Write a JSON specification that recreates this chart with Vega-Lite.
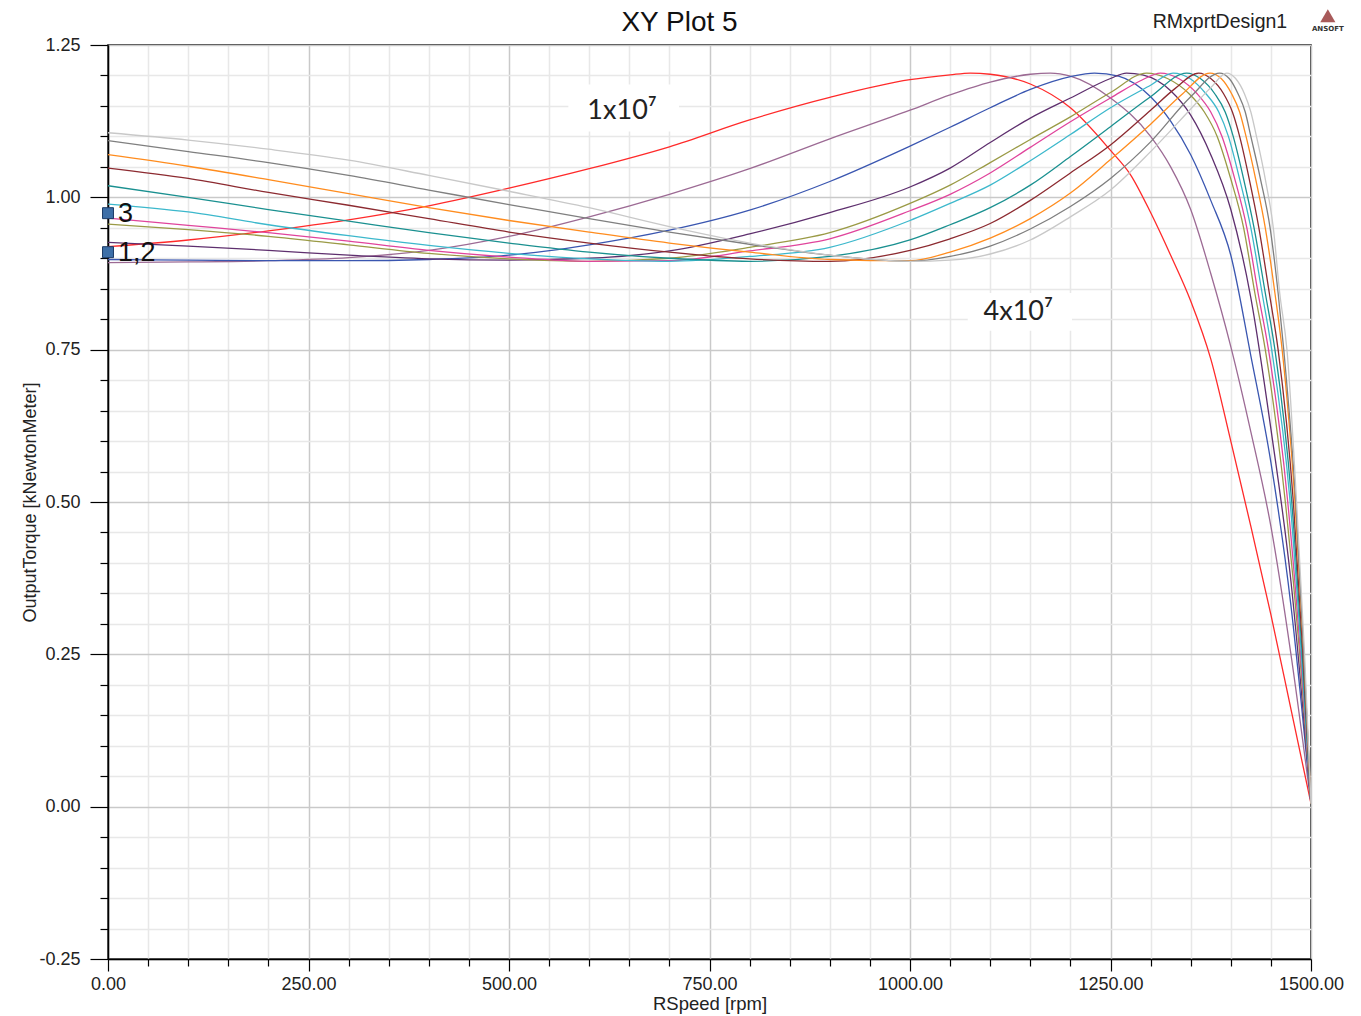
{
"$schema":"https://vega.github.io/schema/vega-lite/v6.json",
"width":1203,"height":914,
"autosize":{"type":"none"},
"padding":{"left":108,"top":45,"right":50,"bottom":57},
"background":"white",
"config":{"view":{"stroke":"#000","strokeWidth":1.5}},
"title":{"text":"XY Plot 5","font":"Liberation Sans","fontSize":28,"fontWeight":"normal","color":"#111","frame":"group","anchor":"middle","dx":-30,"offset":-28},
"datasets":{
"curves":[
{"s":"c01","x":0,"y":0.919},{"s":"c01","x":100,"y":0.930},{"s":"c01","x":200,"y":0.945},{"s":"c01","x":300,"y":0.963},{"s":"c01","x":400,"y":0.986},{"s":"c01","x":500,"y":1.015},{"s":"c01","x":600,"y":1.047},{"s":"c01","x":700,"y":1.083},{"s":"c01","x":800,"y":1.127},{"s":"c01","x":900,"y":1.164},{"s":"c01","x":1000,"y":1.193},{"s":"c01","x":1050,"y":1.201},{"s":"c01","x":1075,"y":1.204},{"s":"c01","x":1100,"y":1.202},{"s":"c01","x":1150,"y":1.186},{"s":"c01","x":1200,"y":1.147},{"s":"c01","x":1250,"y":1.077},{"s":"c01","x":1275,"y":1.037},{"s":"c01","x":1300,"y":0.975},{"s":"c01","x":1325,"y":0.905},{"s":"c01","x":1350,"y":0.83},{"s":"c01","x":1375,"y":0.735},{"s":"c01","x":1400,"y":0.60},{"s":"c01","x":1425,"y":0.46},{"s":"c01","x":1450,"y":0.315},{"s":"c01","x":1475,"y":0.16},{"s":"c01","x":1500,"y":0.005},
{"s":"c02","x":0,"y":0.893},{"s":"c02","x":100,"y":0.894},{"s":"c02","x":200,"y":0.896},{"s":"c02","x":300,"y":0.901},{"s":"c02","x":400,"y":0.913},{"s":"c02","x":500,"y":0.936},{"s":"c02","x":600,"y":0.968},{"s":"c02","x":700,"y":1.005},{"s":"c02","x":800,"y":1.047},{"s":"c02","x":900,"y":1.096},{"s":"c02","x":1000,"y":1.143},{"s":"c02","x":1050,"y":1.168},{"s":"c02","x":1100,"y":1.189},{"s":"c02","x":1150,"y":1.202},{"s":"c02","x":1175,"y":1.204},{"s":"c02","x":1200,"y":1.199},{"s":"c02","x":1250,"y":1.163},{"s":"c02","x":1300,"y":1.10},{"s":"c02","x":1325,"y":1.05},{"s":"c02","x":1350,"y":0.98},{"s":"c02","x":1375,"y":0.875},{"s":"c02","x":1400,"y":0.755},{"s":"c02","x":1425,"y":0.615},{"s":"c02","x":1450,"y":0.46},{"s":"c02","x":1475,"y":0.25},{"s":"c02","x":1500,"y":0.005},
{"s":"c03","x":0,"y":0.898},{"s":"c03","x":100,"y":0.897},{"s":"c03","x":200,"y":0.896},{"s":"c03","x":300,"y":0.896},{"s":"c03","x":400,"y":0.898},{"s":"c03","x":500,"y":0.905},{"s":"c03","x":600,"y":0.922},{"s":"c03","x":700,"y":0.946},{"s":"c03","x":800,"y":0.979},{"s":"c03","x":900,"y":1.026},{"s":"c03","x":1000,"y":1.084},{"s":"c03","x":1050,"y":1.115},{"s":"c03","x":1100,"y":1.147},{"s":"c03","x":1150,"y":1.177},{"s":"c03","x":1200,"y":1.198},{"s":"c03","x":1230,"y":1.204},{"s":"c03","x":1260,"y":1.199},{"s":"c03","x":1300,"y":1.165},{"s":"c03","x":1325,"y":1.125},{"s":"c03","x":1350,"y":1.07},{"s":"c03","x":1375,"y":0.995},{"s":"c03","x":1400,"y":0.905},{"s":"c03","x":1425,"y":0.74},{"s":"c03","x":1450,"y":0.565},{"s":"c03","x":1475,"y":0.33},{"s":"c03","x":1500,"y":0.005},
{"s":"c04","x":0,"y":0.926},{"s":"c04","x":100,"y":0.920},{"s":"c04","x":200,"y":0.913},{"s":"c04","x":300,"y":0.905},{"s":"c04","x":400,"y":0.899},{"s":"c04","x":500,"y":0.897},{"s":"c04","x":600,"y":0.900},{"s":"c04","x":700,"y":0.912},{"s":"c04","x":800,"y":0.940},{"s":"c04","x":900,"y":0.975},{"s":"c04","x":1000,"y":1.017},{"s":"c04","x":1050,"y":1.048},{"s":"c04","x":1100,"y":1.09},{"s":"c04","x":1150,"y":1.13},{"s":"c04","x":1200,"y":1.163},{"s":"c04","x":1250,"y":1.195},{"s":"c04","x":1270,"y":1.204},{"s":"c04","x":1290,"y":1.201},{"s":"c04","x":1325,"y":1.175},{"s":"c04","x":1350,"y":1.135},{"s":"c04","x":1375,"y":1.07},{"s":"c04","x":1400,"y":0.98},{"s":"c04","x":1425,"y":0.835},{"s":"c04","x":1450,"y":0.62},{"s":"c04","x":1475,"y":0.37},{"s":"c04","x":1500,"y":0.005},
{"s":"c05","x":0,"y":0.956},{"s":"c05","x":100,"y":0.947},{"s":"c05","x":200,"y":0.936},{"s":"c05","x":300,"y":0.922},{"s":"c05","x":400,"y":0.908},{"s":"c05","x":500,"y":0.899},{"s":"c05","x":600,"y":0.895},{"s":"c05","x":700,"y":0.900},{"s":"c05","x":800,"y":0.918},{"s":"c05","x":900,"y":0.942},{"s":"c05","x":1000,"y":0.99},{"s":"c05","x":1050,"y":1.02},{"s":"c05","x":1100,"y":1.057},{"s":"c05","x":1150,"y":1.095},{"s":"c05","x":1200,"y":1.132},{"s":"c05","x":1250,"y":1.172},{"s":"c05","x":1295,"y":1.204},{"s":"c05","x":1321,"y":1.195},{"s":"c05","x":1348,"y":1.17},{"s":"c05","x":1367,"y":1.14},{"s":"c05","x":1383,"y":1.10},{"s":"c05","x":1400,"y":1.03},{"s":"c05","x":1416,"y":0.95},{"s":"c05","x":1430,"y":0.843},{"s":"c05","x":1443,"y":0.75},{"s":"c05","x":1468,"y":0.50},{"s":"c05","x":1486,"y":0.25},{"s":"c05","x":1500,"y":0.005},
{"s":"c06","x":0,"y":0.966},{"s":"c06","x":100,"y":0.954},{"s":"c06","x":200,"y":0.942},{"s":"c06","x":300,"y":0.928},{"s":"c06","x":400,"y":0.913},{"s":"c06","x":500,"y":0.902},{"s":"c06","x":600,"y":0.895},{"s":"c06","x":700,"y":0.896},{"s":"c06","x":800,"y":0.912},{"s":"c06","x":900,"y":0.932},{"s":"c06","x":1000,"y":0.978},{"s":"c06","x":1050,"y":1.005},{"s":"c06","x":1100,"y":1.04},{"s":"c06","x":1150,"y":1.082},{"s":"c06","x":1200,"y":1.124},{"s":"c06","x":1250,"y":1.163},{"s":"c06","x":1290,"y":1.193},{"s":"c06","x":1312,"y":1.204},{"s":"c06","x":1335,"y":1.195},{"s":"c06","x":1358,"y":1.17},{"s":"c06","x":1375,"y":1.14},{"s":"c06","x":1389,"y":1.10},{"s":"c06","x":1405,"y":1.03},{"s":"c06","x":1420,"y":0.95},{"s":"c06","x":1434,"y":0.843},{"s":"c06","x":1447,"y":0.75},{"s":"c06","x":1471,"y":0.50},{"s":"c06","x":1487,"y":0.25},{"s":"c06","x":1500,"y":0.005},
{"s":"c07","x":0,"y":0.989},{"s":"c07","x":100,"y":0.976},{"s":"c07","x":200,"y":0.955},{"s":"c07","x":300,"y":0.937},{"s":"c07","x":400,"y":0.921},{"s":"c07","x":500,"y":0.908},{"s":"c07","x":600,"y":0.899},{"s":"c07","x":700,"y":0.895},{"s":"c07","x":800,"y":0.903},{"s":"c07","x":900,"y":0.918},{"s":"c07","x":1000,"y":0.962},{"s":"c07","x":1050,"y":0.99},{"s":"c07","x":1100,"y":1.02},{"s":"c07","x":1150,"y":1.06},{"s":"c07","x":1200,"y":1.103},{"s":"c07","x":1250,"y":1.147},{"s":"c07","x":1300,"y":1.184},{"s":"c07","x":1328,"y":1.204},{"s":"c07","x":1349,"y":1.195},{"s":"c07","x":1369,"y":1.17},{"s":"c07","x":1385,"y":1.14},{"s":"c07","x":1397,"y":1.10},{"s":"c07","x":1411,"y":1.03},{"s":"c07","x":1425,"y":0.95},{"s":"c07","x":1439,"y":0.843},{"s":"c07","x":1451,"y":0.75},{"s":"c07","x":1474,"y":0.50},{"s":"c07","x":1488,"y":0.25},{"s":"c07","x":1500,"y":0.005},
{"s":"c08","x":0,"y":1.019},{"s":"c08","x":100,"y":1.0},{"s":"c08","x":200,"y":0.98},{"s":"c08","x":300,"y":0.961},{"s":"c08","x":400,"y":0.942},{"s":"c08","x":500,"y":0.925},{"s":"c08","x":600,"y":0.91},{"s":"c08","x":700,"y":0.90},{"s":"c08","x":800,"y":0.895},{"s":"c08","x":900,"y":0.903},{"s":"c08","x":1000,"y":0.93},{"s":"c08","x":1050,"y":0.955},{"s":"c08","x":1100,"y":0.983},{"s":"c08","x":1150,"y":1.02},{"s":"c08","x":1200,"y":1.067},{"s":"c08","x":1250,"y":1.116},{"s":"c08","x":1300,"y":1.165},{"s":"c08","x":1345,"y":1.204},{"s":"c08","x":1362,"y":1.195},{"s":"c08","x":1380,"y":1.17},{"s":"c08","x":1393,"y":1.14},{"s":"c08","x":1403,"y":1.10},{"s":"c08","x":1416,"y":1.03},{"s":"c08","x":1429,"y":0.95},{"s":"c08","x":1443,"y":0.843},{"s":"c08","x":1455,"y":0.75},{"s":"c08","x":1476,"y":0.50},{"s":"c08","x":1489,"y":0.25},{"s":"c08","x":1500,"y":0.005},
{"s":"c09","x":0,"y":1.048},{"s":"c09","x":100,"y":1.031},{"s":"c09","x":200,"y":1.008},{"s":"c09","x":300,"y":0.987},{"s":"c09","x":400,"y":0.965},{"s":"c09","x":500,"y":0.943},{"s":"c09","x":600,"y":0.925},{"s":"c09","x":700,"y":0.91},{"s":"c09","x":800,"y":0.899},{"s":"c09","x":900,"y":0.895},{"s":"c09","x":1000,"y":0.913},{"s":"c09","x":1050,"y":0.932},{"s":"c09","x":1100,"y":0.957},{"s":"c09","x":1150,"y":0.995},{"s":"c09","x":1200,"y":1.04},{"s":"c09","x":1250,"y":1.086},{"s":"c09","x":1300,"y":1.143},{"s":"c09","x":1330,"y":1.178},{"s":"c09","x":1360,"y":1.204},{"s":"c09","x":1375,"y":1.195},{"s":"c09","x":1391,"y":1.17},{"s":"c09","x":1402,"y":1.14},{"s":"c09","x":1411,"y":1.10},{"s":"c09","x":1423,"y":1.03},{"s":"c09","x":1435,"y":0.95},{"s":"c09","x":1448,"y":0.843},{"s":"c09","x":1459,"y":0.75},{"s":"c09","x":1478,"y":0.50},{"s":"c09","x":1490,"y":0.25},{"s":"c09","x":1500,"y":0.005},
{"s":"c10","x":0,"y":1.07},{"s":"c10","x":100,"y":1.051},{"s":"c10","x":200,"y":1.029},{"s":"c10","x":300,"y":1.006},{"s":"c10","x":400,"y":0.983},{"s":"c10","x":500,"y":0.962},{"s":"c10","x":600,"y":0.943},{"s":"c10","x":700,"y":0.925},{"s":"c10","x":800,"y":0.91},{"s":"c10","x":900,"y":0.898},{"s":"c10","x":1000,"y":0.896},{"s":"c10","x":1050,"y":0.91},{"s":"c10","x":1100,"y":0.933},{"s":"c10","x":1150,"y":0.965},{"s":"c10","x":1200,"y":1.007},{"s":"c10","x":1250,"y":1.062},{"s":"c10","x":1300,"y":1.12},{"s":"c10","x":1340,"y":1.17},{"s":"c10","x":1374,"y":1.204},{"s":"c10","x":1388,"y":1.195},{"s":"c10","x":1401,"y":1.17},{"s":"c10","x":1411,"y":1.14},{"s":"c10","x":1419,"y":1.10},{"s":"c10","x":1431,"y":1.03},{"s":"c10","x":1443,"y":0.95},{"s":"c10","x":1455,"y":0.843},{"s":"c10","x":1464,"y":0.75},{"s":"c10","x":1480,"y":0.50},{"s":"c10","x":1491,"y":0.25},{"s":"c10","x":1500,"y":0.005},
{"s":"c11","x":0,"y":1.093},{"s":"c11","x":100,"y":1.075},{"s":"c11","x":200,"y":1.057},{"s":"c11","x":300,"y":1.036},{"s":"c11","x":400,"y":1.012},{"s":"c11","x":500,"y":0.988},{"s":"c11","x":600,"y":0.965},{"s":"c11","x":700,"y":0.943},{"s":"c11","x":800,"y":0.923},{"s":"c11","x":900,"y":0.905},{"s":"c11","x":1000,"y":0.895},{"s":"c11","x":1050,"y":0.903},{"s":"c11","x":1100,"y":0.92},{"s":"c11","x":1150,"y":0.948},{"s":"c11","x":1200,"y":0.985},{"s":"c11","x":1250,"y":1.031},{"s":"c11","x":1300,"y":1.091},{"s":"c11","x":1350,"y":1.165},{"s":"c11","x":1386,"y":1.204},{"s":"c11","x":1398,"y":1.195},{"s":"c11","x":1409,"y":1.17},{"s":"c11","x":1418,"y":1.14},{"s":"c11","x":1425,"y":1.10},{"s":"c11","x":1437,"y":1.03},{"s":"c11","x":1449,"y":0.95},{"s":"c11","x":1459,"y":0.843},{"s":"c11","x":1466,"y":0.75},{"s":"c11","x":1481,"y":0.50},{"s":"c11","x":1491,"y":0.25},{"s":"c11","x":1500,"y":0.005},
{"s":"c12","x":0,"y":1.106},{"s":"c12","x":100,"y":1.094},{"s":"c12","x":200,"y":1.079},{"s":"c12","x":300,"y":1.061},{"s":"c12","x":400,"y":1.036},{"s":"c12","x":500,"y":1.010},{"s":"c12","x":600,"y":0.983},{"s":"c12","x":700,"y":0.952},{"s":"c12","x":800,"y":0.925},{"s":"c12","x":900,"y":0.905},{"s":"c12","x":1000,"y":0.895},{"s":"c12","x":1050,"y":0.897},{"s":"c12","x":1100,"y":0.907},{"s":"c12","x":1150,"y":0.93},{"s":"c12","x":1200,"y":0.968},{"s":"c12","x":1250,"y":1.012},{"s":"c12","x":1300,"y":1.075},{"s":"c12","x":1350,"y":1.145},{"s":"c12","x":1375,"y":1.18},{"s":"c12","x":1395,"y":1.204},{"s":"c12","x":1406,"y":1.195},{"s":"c12","x":1417,"y":1.17},{"s":"c12","x":1425,"y":1.14},{"s":"c12","x":1432,"y":1.10},{"s":"c12","x":1443,"y":1.03},{"s":"c12","x":1453,"y":0.95},{"s":"c12","x":1461,"y":0.843},{"s":"c12","x":1470,"y":0.75},{"s":"c12","x":1482,"y":0.50},{"s":"c12","x":1492,"y":0.25},{"s":"c12","x":1500,"y":0.005}
],
"boxes":[{"x":574,"x2":712,"y":1.185,"y2":1.108},{"x":1072,"x2":1202,"y":0.843,"y2":0.781}],
"labels":[{"x":641,"y":1.1416,"t":"1x10⁷"},{"x":1135,"y":0.8117,"t":"4x10⁷"}],
"markers":[{"x":0,"y":0.974,"t":"3"},{"x":0,"y":0.910,"t":"1,2"}],
"one":[{"k":1}]
},
"layer":[
{"data":{"name":"curves"},"mark":{"type":"line","strokeWidth":1.3,"interpolate":"monotone","clip":true},
"encoding":{
"x":{"field":"x","type":"quantitative","scale":{"domain":[0,1500],"nice":false,"zero":false},
 "axis":{"values":[0,50,100,150,200,250,300,350,400,450,500,550,600,650,700,750,800,850,900,950,1000,1050,1100,1150,1200,1250,1300,1350,1400,1450,1500],"tickCount":60,
  "grid":true,"gridColor":{"condition":{"test":"datum.value % 250 === 0","value":"#c9c9c9"},"value":"#e8e8e8"},"gridWidth":1.5,
  "tickColor":"#000","tickWidth":1.2,"tickSize":{"condition":{"test":"datum.value % 250 === 0","value":12},"value":7},
  "domainColor":"#000","domainWidth":1.5,
  "labelExpr":"datum.value % 250 === 0 ? format(datum.value, '.2f') : ''","labelFont":"Liberation Sans","labelFontSize":18,"labelColor":"#222","labelPadding":4,"labelFlush":false,"labelOverlap":false,
  "title":"RSpeed [rpm]","titleFont":"Liberation Sans","titleFontSize":18.5,"titleFontWeight":"normal","titleColor":"#222","titlePadding":1}},
"y":{"field":"y","type":"quantitative","scale":{"domain":[-0.25,1.25],"nice":false,"zero":false},
 "axis":{"values":[-0.25,-0.2,-0.15,-0.1,-0.05,0,0.05,0.1,0.15,0.2,0.25,0.3,0.35,0.4,0.45,0.5,0.55,0.6,0.65,0.7,0.75,0.8,0.85,0.9,0.95,1,1.05,1.1,1.15,1.2,1.25],"tickCount":60,
  "grid":true,"gridColor":{"condition":{"test":"abs(round(datum.value*20)) % 5 === 0","value":"#c9c9c9"},"value":"#e8e8e8"},"gridWidth":1.5,
  "tickColor":"#000","tickWidth":1.2,"tickSize":{"condition":{"test":"abs(round(datum.value*20)) % 5 === 0","value":18},"value":8},
  "domainColor":"#000","domainWidth":1.5,
  "labelExpr":"abs(round(datum.value*20)) % 5 === 0 ? replace(format(datum.value, '.2f'), '\u2212', '-') : ''","labelFont":"Liberation Sans","labelFontSize":18,"labelColor":"#222","labelPadding":10,"labelFlush":false,"labelOverlap":false,
  "title":"OutputTorque [kNewtonMeter]","titleFont":"Liberation Sans","titleFontSize":18,"titleFontWeight":"normal","titleColor":"#222","titlePadding":-1}},
"color":{"field":"s","type":"nominal","legend":null,
 "scale":{"domain":["c01","c02","c03","c04","c05","c06","c07","c08","c09","c10","c11","c12"],
  "range":["#ff2a2a","#9c6a94","#3a56b0","#5e2f6e","#9a9a45","#e0449c","#3cb8cc","#1a9090","#8c2a30","#ff8c1e","#7f7f7f","#c8c8c8"]}}}},
{"data":{"name":"boxes"},"mark":{"type":"rect","fill":"white"},
"encoding":{"x":{"field":"x","type":"quantitative"},"x2":{"field":"x2"},"y":{"field":"y","type":"quantitative"},"y2":{"field":"y2"}}},
{"data":{"name":"labels"},"mark":{"type":"text","font":"Lato","fontSize":27,"color":"#222","align":"center","baseline":"middle"},
"encoding":{"x":{"field":"x","type":"quantitative"},"y":{"field":"y","type":"quantitative"},"text":{"field":"t"}}},
{"data":{"name":"markers"},"mark":{"type":"square","size":120,"filled":true,"color":"#3d6fa8","stroke":"#1c3b66","strokeWidth":1,"opacity":1},
"encoding":{"x":{"field":"x","type":"quantitative"},"y":{"field":"y","type":"quantitative"}}},
{"data":{"name":"markers"},"mark":{"type":"text","font":"Liberation Sans","fontSize":27,"color":"#111","align":"left","baseline":"middle","dx":10,"dy":1},
"encoding":{"x":{"field":"x","type":"quantitative"},"y":{"field":"y","type":"quantitative"},"text":{"field":"t"}}},
{"data":{"name":"one"},"mark":{"type":"text","text":"RMxprtDesign1","font":"Liberation Sans","fontSize":19.5,"color":"#222","align":"center","baseline":"middle"},
"encoding":{"x":{"datum":1386.5},"y":{"datum":1.2877}}},
{"data":{"name":"one"},"mark":{"type":"point","shape":"triangle-up","size":230,"filled":true,"color":"#a85a5a","opacity":1},
"encoding":{"x":{"datum":1521},"y":{"datum":1.298}}},
{"data":{"name":"one"},"mark":{"type":"text","text":"ANSOFT","font":"DejaVu Sans","fontSize":7,"fontWeight":"bold","color":"#333","align":"center","baseline":"middle"},
"encoding":{"x":{"datum":1521},"y":{"datum":1.277}}}
]
}
